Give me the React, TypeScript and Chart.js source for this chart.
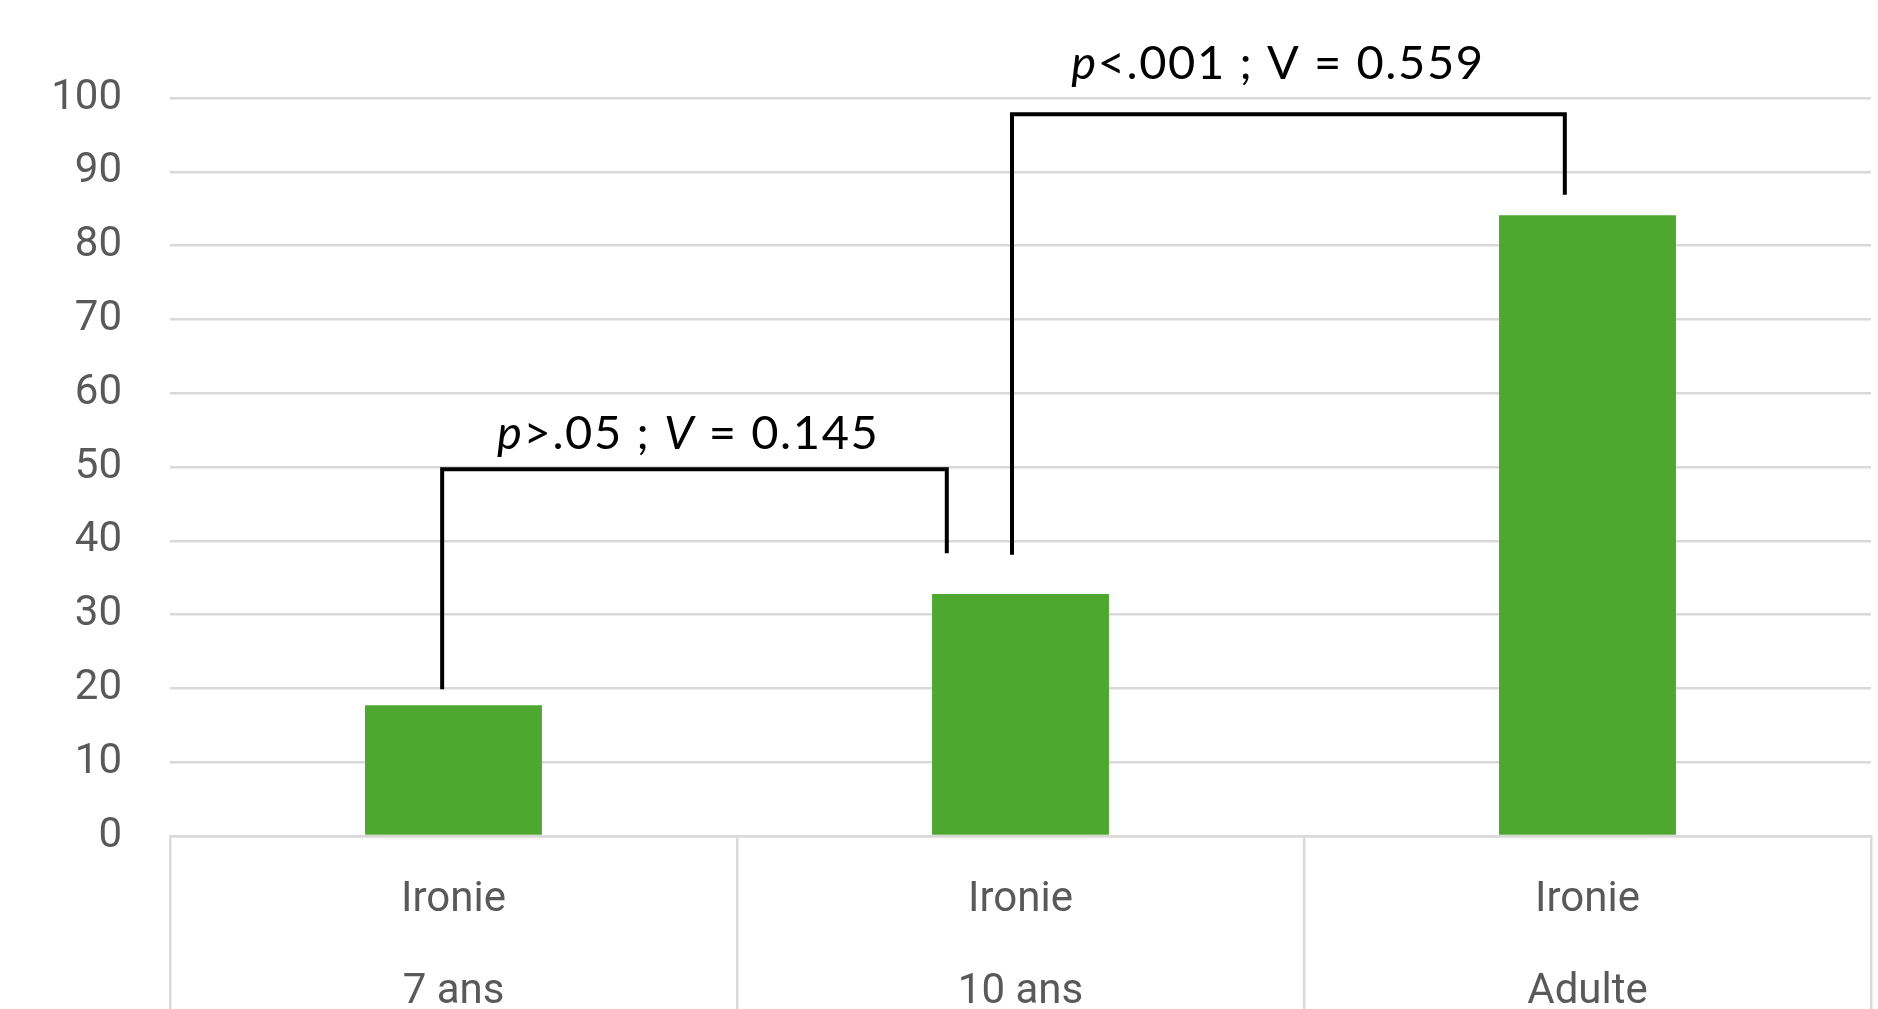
import React, { useEffect, useRef } from "react";
import { Chart, registerables } from "chart.js";

Chart.register(...registerables);

// ---- data ----
const categories: string[][] = [
  ["Ironie", "7 ans"],
  ["Ironie", "10 ans"],
  ["Ironie", "Adulte"],
];
const values: number[] = [17.7, 32.8, 84.1];

const yMin = 0;
const yMax = 100;
const yStep = 10;

// significance brackets (x in category index units, y in data units)
const bracketLeftX: number[] = [-0.02, 0.985];
const bracketRightX: number[] = [0.87, 1.96];
const bracketTopY: number[] = [49.7, 97.8];
const bracketLeftBottomY: number[] = [19.9, 38.1];
const bracketRightBottomY: number[] = [38.3, 86.9];

// bracket labels: segments [text, italic]
const labelSegments: [string, boolean][][] = [
  [["p", true], [">.05 ; ", false], ["V", true], [" = 0.145", false]],
  [["p", true], ["<.001 ; V = 0.559", false]],
];
const labelX: number[] = [0.414, 1.454];
const labelBaselineY: number[] = [52.4, 102.6];

const W = 1878;
const H = 1009;
const GRID = "#D9D9D9";
const TEXT_GRAY = "#595959";
const BAR_GREEN = "#4EA72E";

const bracketPlugin = {
  id: "brackets",
  afterDatasetsDraw(chart: any) {
    const { ctx } = chart;
    const xs = chart.scales.x;
    const ys = chart.scales.y;
    ctx.save();
    ctx.strokeStyle = "#000000";
    ctx.lineWidth = 4;
    ctx.lineJoin = "miter";
    ctx.lineCap = "butt";
    for (let i = 0; i < bracketLeftX.length; i++) {
      const x1 = xs.getPixelForValue(bracketLeftX[i]);
      const x2 = xs.getPixelForValue(bracketRightX[i]);
      const yt = ys.getPixelForValue(bracketTopY[i]);
      const yl = ys.getPixelForValue(bracketLeftBottomY[i]);
      const yr = ys.getPixelForValue(bracketRightBottomY[i]);
      ctx.beginPath();
      ctx.moveTo(x1, yl);
      ctx.lineTo(x1, yt);
      ctx.lineTo(x2, yt);
      ctx.lineTo(x2, yr);
      ctx.stroke();
    }
    // labels
    ctx.fillStyle = "#000000";
    ctx.textBaseline = "alphabetic";
    ctx.textAlign = "left";
    const size = 47;
    const fam = "Lato, 'Open Sans', sans-serif";
    try {
      (ctx as any).letterSpacing = "1.6px";
    } catch (e) {}
    for (let i = 0; i < labelSegments.length; i++) {
      const segs = labelSegments[i];
      let total = 0;
      const widths: number[] = [];
      for (const [t, it] of segs) {
        ctx.font = `${it ? "italic " : ""}${size}px ${fam}`;
        const w = ctx.measureText(t).width;
        widths.push(w);
        total += w;
      }
      let x = xs.getPixelForValue(labelX[i]) - total / 2;
      const y = ys.getPixelForValue(labelBaselineY[i]);
      segs.forEach(([t, it], k) => {
        ctx.font = `${it ? "italic " : ""}${size}px ${fam}`;
        ctx.fillText(t, x, y);
        x += widths[k];
      });
    }
    ctx.restore();
  },
};

export default function App() {
  const ref = useRef<HTMLCanvasElement | null>(null);
  useEffect(() => {
    if (!ref.current) return;
    const chart = new Chart(ref.current, {
      type: "bar",
      data: {
        labels: categories,
        datasets: [
          {
            data: values,
            backgroundColor: BAR_GREEN,
            borderWidth: 0,
            categoryPercentage: 1,
            barPercentage: 0.312,
          },
        ],
      },
      options: {
        animation: false,
        responsive: false,
        devicePixelRatio: 1,
        layout: { padding: { top: 98, right: 7, left: 0, bottom: 0 } },
        plugins: {
          legend: { display: false },
          tooltip: { enabled: false },
        },
        scales: {
          x: {
            offset: true,
            grid: {
              display: true,
              offset: true,
              drawOnChartArea: false,
              drawTicks: true,
              tickLength: 200,
              color: GRID,
              lineWidth: 2.5,
            },
            border: { display: true, color: GRID, width: 2.5 },
            ticks: {
              color: TEXT_GRAY,
              padding: 18 - 200,
              maxRotation: 0,
              autoSkip: false,
              font: { family: "Roboto, 'Liberation Sans', sans-serif", size: 42, lineHeight: 92 / 42 },
            },
            afterFit(scale: any) {
              scale.height = H - 836;
            },
          },
          y: {
            min: yMin,
            max: yMax,
            ticks: {
              stepSize: yStep,
              color: TEXT_GRAY,
              padding: 48,
              font: { family: "Roboto, 'Liberation Sans', sans-serif", size: 42 },
            },
            grid: { color: GRID, lineWidth: 2.5, drawTicks: false },
            border: { display: false },
            afterFit(scale: any) {
              scale.width = 170;
            },
          },
        },
      },
      plugins: [bracketPlugin],
    });
    return () => chart.destroy();
  }, []);
  return (
    <div style={{ position: "fixed", left: 0, top: 0, width: W, height: H, background: "#ffffff" }}>
      <canvas ref={ref} width={W} height={H} style={{ width: W, height: H, display: "block" }} />
    </div>
  );
}
